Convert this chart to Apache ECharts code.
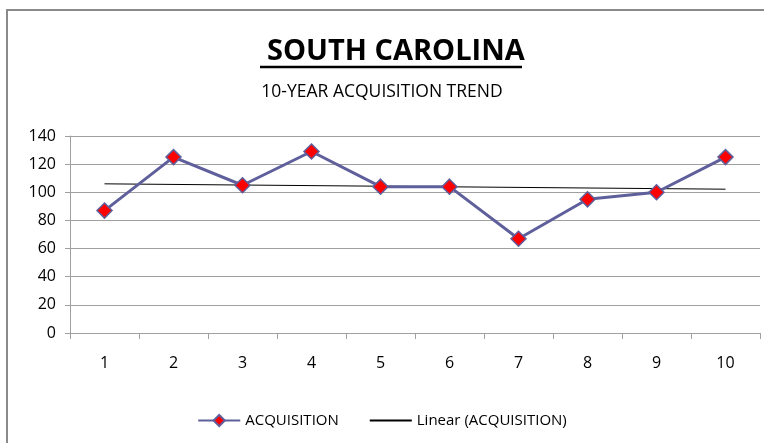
<!DOCTYPE html>
<html>
<head>
    <meta charset="utf-8">
    <title>South Carolina</title>
    <script type="text/javascript" src="https://cdn.jsdelivr.net/npm/echarts@6/dist/echarts.min.js"></script>
    <style type="text/css">
        html, body { margin: 0; padding: 0; background: #fff; }
        #main { width: 764px; height: 443px; }
    </style>
</head>
<body>
<div id="main"></div>
<script type="text/javascript">
    // 数据
    var years = ['1', '2', '3', '4', '5', '6', '7', '8', '9', '10'];
    var acquisition = [87, 125, 105, 129, 104, 104, 67, 95, 100, 125];
    // 趋势线两端
    var trend = [106, null, null, null, null, null, null, null, null, 102.2];
    var yTicks = [0, 20, 40, 60, 80, 100, 120, 140];

    var font = '"Open Sans", "Liberation Sans", sans-serif';
    var myChart = echarts.init(document.getElementById('main'));

    var option = {
        animation: false,
        textStyle: { fontFamily: font },
        title: [{
            text: 'SOUTH CAROLINA',
            left: 262,
            top: 32,
            textStyle: { fontSize: 29, fontWeight: 'bold', color: '#000', fontFamily: font }
        }, {
            text: '10-YEAR ACQUISITION TREND',
            left: 'center',
            top: 78,
            textStyle: { fontSize: 17.5, fontWeight: 'normal', color: '#000', fontFamily: font }
        }],
        graphic: [{
            type: 'rect',
            shape: { x: 7, y: 10, width: 900, height: 600 },
            style: { fill: 'none', stroke: '#8a8a8a', lineWidth: 2 },
            silent: true
        }, {
            type: 'line',
            shape: { x1: 260, y1: 67, x2: 522, y2: 67 },
            style: { stroke: '#000', lineWidth: 2.5 },
            silent: true
        }],
        legend: {
            bottom: 10,
            left: 'center',
            itemGap: 30,
            itemWidth: 42,
            itemHeight: 14,
            textStyle: { fontSize: 15, color: '#000', fontFamily: font },
            data: [
                { name: 'ACQUISITION' },
                { name: 'Linear (ACQUISITION)', itemStyle: { opacity: 0 } }
            ]
        },
        grid: {
            left: 70,
            right: 4,
            top: 136,
            bottom: 110,
            containLabel: false
        },
        xAxis: {
            type: 'category',
            data: years,
            boundaryGap: true,
            axisLine: { lineStyle: { color: '#a0a0a0', width: 1 } },
            axisTick: { show: true, length: 6, lineStyle: { color: '#a0a0a0' } },
            axisLabel: { fontSize: 16, color: '#000', margin: 22 }
        },
        yAxis: {
            type: 'value',
            min: yTicks[0],
            max: yTicks[yTicks.length - 1],
            interval: 20,
            axisLine: { show: true, lineStyle: { color: '#a0a0a0' } },
            axisTick: { show: true, length: 5, lineStyle: { color: '#a0a0a0' } },
            axisLabel: { fontSize: 16, color: '#000', margin: 14 },
            splitLine: { lineStyle: { color: '#a0a0a0', width: 1 } }
        },
        series: [{
            name: 'ACQUISITION',
            type: 'line',
            data: acquisition,
            color: '#5f5f9c',
            lineStyle: { color: '#5f5f9c', width: 3 },
            symbol: 'diamond',
            symbolSize: 15,
            itemStyle: { color: '#ff0000', borderColor: '#5f5f9c', borderWidth: 1.5 },
            z: 3
        }, {
            name: 'Linear (ACQUISITION)',
            type: 'line',
            data: trend,
            connectNulls: true,
            color: '#000',
            lineStyle: { color: '#000', width: 1 },
            symbol: 'none',
            z: 2
        }]
    };

    myChart.setOption(option);
</script>
</body>
</html>
